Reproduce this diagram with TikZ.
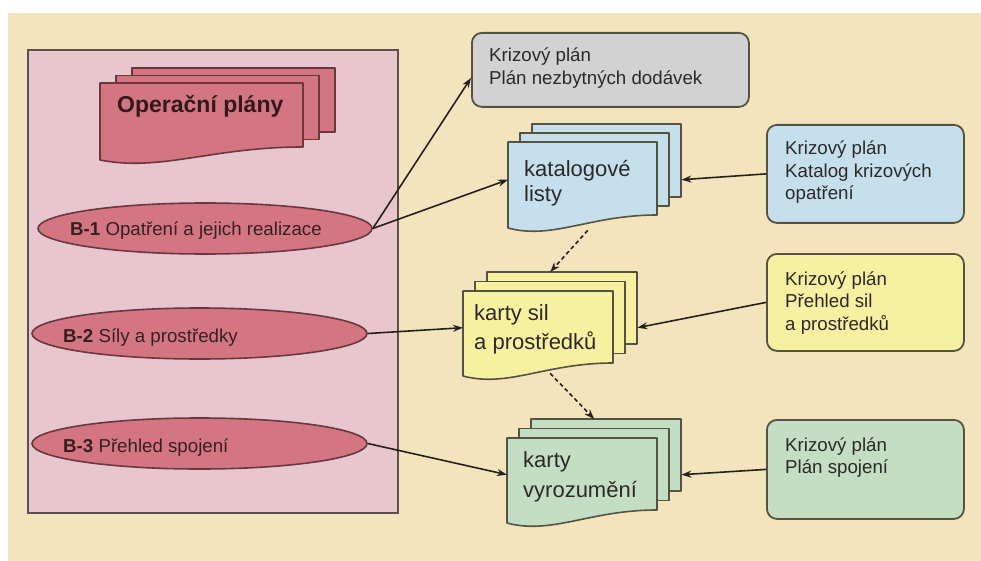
\documentclass[tikz,border=0pt]{standalone}
\usepackage{fontspec}
\setmainfont{Liberation Sans}
\usetikzlibrary{arrows.meta,shapes.geometric,calc}
\definecolor{cream}{RGB}{243,228,190}
\definecolor{panelfill}{RGB}{231,198,206}
\definecolor{panelline}{RGB}{95,78,78}
\definecolor{rose}{RGB}{212,118,130}
\definecolor{roseline}{RGB}{105,55,62}
\definecolor{grayfill}{RGB}{210,210,210}
\definecolor{bluefill}{RGB}{197,224,236}
\definecolor{yelfill}{RGB}{246,240,160}
\definecolor{grnfill}{RGB}{196,222,196}
\definecolor{boxline}{RGB}{85,82,65}
\definecolor{linec}{RGB}{40,32,28}
\definecolor{txt}{RGB}{45,40,40}
\newcommand{\docstack}[9]{%
  \draw[pg=#9,fill=#8] (#2+2*#6,#3-2*#7) rectangle ++(#4,#5);
  \draw[pg=#9,fill=#8] (#2+#6,#3-#7) rectangle ++(#4,#5);
  \draw[pg=#9,fill=#8] (#2,#3) -- (#2+#4,#3) -- (#2+#4,#3+#5)
     .. controls (#2+0.55*#4,#3+#5) and (#2+0.3*#4,#3+#5+25) .. (#2,#3+#5+13) -- cycle;
  \node[inner sep=0,minimum width={(#4+2*#6)*1pt},minimum height={(#5+2*#7+20)*1pt},anchor=north west] (#1) at (#2,#3-2*#7) {};}
\begin{document}
\begin{tikzpicture}[x=1pt,y=-1pt,
  pg/.style={draw=#1, line width=1.6pt, line join=round},
  pg/.default=boxline,
  conn/.style={draw=linec, line width=1.6pt, -{Stealth[length=10pt,width=7pt]}},
  dconn/.style={conn, dash pattern=on 4pt off 3pt},
  rbox/.style={draw=boxline, line width=1.8pt, rounded corners=10pt, inner sep=0, anchor=north west},
  ell/.style={ellipse, draw=roseline, line width=1.6pt, fill=rose, inner sep=0},
  small/.style={font=\fontsize{18.7}{23}\selectfont, text=txt, inner sep=0, anchor=base west, align=left},
  big/.style={font=\fontsize{22}{28}\selectfont, text=txt, inner sep=0, anchor=base west, align=left}
]
\useasboundingbox (0,0) rectangle (981,561);
\fill[cream] (8,13) rectangle (981,561);
\node[draw=panelline, line width=1.6pt, fill=panelfill, inner sep=0, minimum width=370pt, minimum height=463pt, anchor=north west] (panel) at (27,49) {};

% Operacni plany
\docstack{op}{100}{83}{203}{64}{16}{7.5}{rose}{roseline}
\node[font=\bfseries\fontsize{23}{26}\selectfont, text={rgb,255:red,50;green,25;blue,30}, inner sep=0, anchor=base west] (optext) at (117,113) {Operační plány};

% ellipses
\node[ell, minimum width=334pt, minimum height=51pt] (b1) at (205,228.5) {};
\node[small, text={rgb,255:red,55;green,30;blue,35}] (b1t) at (70,236) {\textbf{B-1} Opatření a jejich realizace};
\node[ell, minimum width=335pt, minimum height=51pt] (b2) at (199.5,333.5) {};
\node[small, text={rgb,255:red,55;green,30;blue,35}] (b2t) at (63,342) {\textbf{B-2} Síly a prostředky};
\node[ell, minimum width=335pt, minimum height=51pt] (b3) at (199.5,443.5) {};
\node[small, text={rgb,255:red,55;green,30;blue,35}] (b3t) at (63,452) {\textbf{B-3} Přehled spojení};

% stacks
\docstack{kat}{508}{142}{149}{73}{12}{9}{bluefill}{boxline}
\node[big] (katt) at (524,202) {katalogové\\[-3pt]listy};
\docstack{ks}{463}{291}{150}{72}{12}{9.5}{yelfill}{boxline}
\node[big] (kst) at (474,349) {karty sil\\[1pt]a prostředků};
\docstack{vy}{507}{438}{150}{72}{12}{9.5}{grnfill}{boxline}
\node[big] (vyt) at (523,497) {karty\\[2pt]vyrozumění};

% right boxes
\node[rbox, fill=grayfill, minimum width=277pt, minimum height=74pt] (gray) at (471,32) {};
\node[small] (grayt) at (489,85) {Krizový plán\\Plán nezbytných dodávek};
\node[rbox, fill=bluefill, minimum width=197pt, minimum height=98pt] (blue) at (766,124) {};
\node[small] (bluet) at (785,200) {Krizový plán\\[-0.5pt]Katalog krizových\\[-0.5pt]opatření};
\node[rbox, fill=yelfill, minimum width=197pt, minimum height=97pt] (yel) at (766,253) {};
\node[small] (yelt) at (785,330) {Krizový plán\\[-0.5pt]Přehled sil\\[-0.5pt]a prostředků};
\node[rbox, fill=grnfill, minimum width=197pt, minimum height=99pt] (grn) at (766,419) {};
\node[small] (grnt) at (785,473) {Krizový plán\\[-1pt]Plán spojení};

% connectors
\draw[conn] (b1.east) -- ([yshift=-8pt]gray.west);
\draw[conn] (b1.east) -- (kat.west);
\draw[conn] (blue.west) -- (kat.east);
\draw[conn] (b2.east) -- (ks.west);
\draw[conn] (yel.west) -- (ks.east);
\draw[conn] (b3.east) -- (vy.west);
\draw[conn] (grn.west) -- (vy.east);
\draw[dconn] ([xshift=-7pt,yshift=5pt]kat.south) -- (ks.north);
\draw[dconn] ([yshift=10pt]ks.south) -- (vy.north);
\end{tikzpicture}
\end{document}
